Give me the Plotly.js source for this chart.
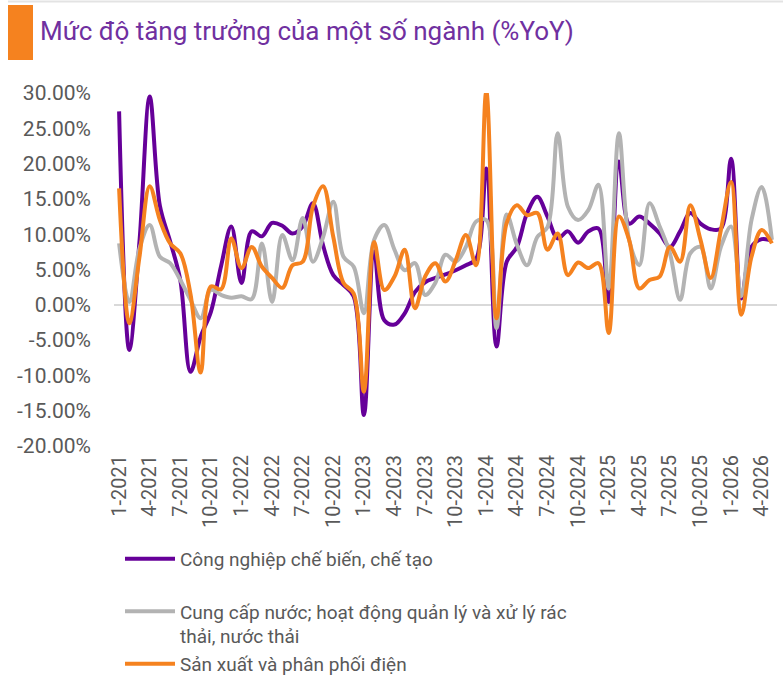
<!DOCTYPE html>
<html>
<head>
<meta charset="utf-8">
<script src="https://cdn.plot.ly/plotly-3.0.1.min.js"></script>
<style>html,body{margin:0;padding:0;background:#fff;}#chart{width:783px;height:698px;}</style>
</head>
<body>
<div id="chart"></div>
<script>
const months = ["1-2021","2-2021","3-2021","4-2021","5-2021","6-2021","7-2021","8-2021","9-2021","10-2021","11-2021","12-2021",
"1-2022","2-2022","3-2022","4-2022","5-2022","6-2022","7-2022","8-2022","9-2022","10-2022","11-2022","12-2022",
"1-2023","2-2023","3-2023","4-2023","5-2023","6-2023","7-2023","8-2023","9-2023","10-2023","11-2023","12-2023",
"1-2024","2-2024","3-2024","4-2024","5-2024","6-2024","7-2024","8-2024","9-2024","10-2024","11-2024","12-2024",
"1-2025","2-2025","3-2025","4-2025","5-2025","6-2025","7-2025","8-2025","9-2025","10-2025","11-2025","12-2025",
"1-2026","2-2026","3-2026","4-2026","5-2026"];

const tickMonths = ["1-2021","4-2021","7-2021","10-2021","1-2022","4-2022","7-2022","10-2022","1-2023","4-2023","7-2023","10-2023",
"1-2024","4-2024","7-2024","10-2024","1-2025","4-2025","7-2025","10-2025","1-2026","4-2026"];

const yTickVals = [-20,-15,-10,-5,0,5,10,15,20,25,30];
const yTickText = ["-20.00%","-15.00%","-10.00%","-5.00%","0.00%","5.00%","10.00%","15.00%","20.00%","25.00%","30.00%"];

const seriesNames = ["Công nghiệp chế biến, chế tạo<br> ",
                     "Cung cấp nước; hoạt động quản lý và xử lý rác<br>thải, nước thải",
                     "Sản xuất và phân phối điện"];

const congNghiep = [27.4,-6.4,9.0,29.5,14.0,9.0,3.5,-9.5,-4.5,-1.0,5.5,11.1,
3.1,10.4,9.7,11.6,11.2,10.1,11.1,14.4,8.4,4.2,2.8,1.2,
-15.6,7.6,-2.2,-2.8,-1.2,1.8,3.2,3.8,4.3,4.9,5.6,6.5,
19.3,-5.9,6.1,8.2,13.0,15.3,12.5,9.4,10.4,8.8,10.4,10.8,
0.4,20.3,11.5,12.5,11.5,10.1,8.2,10.4,13.0,11.5,10.7,10.8,
20.7,0.9,8.2,9.3,9.1];

const cungCapNuoc = [8.7,0.4,8.0,11.3,6.8,5.9,3.5,0.7,-1.9,2.1,1.4,1.0,
1.2,0.8,8.7,0.4,9.9,6.3,12.3,6.1,9.6,14.6,6.8,5.4,
-1.2,9.2,11.3,7.8,4.9,5.9,1.4,3.1,7.1,6.1,8.2,11.8,
12.0,-3.3,12.8,8.5,5.6,9.6,11.0,24.3,13.9,12.0,13.4,17.0,
2.3,24.3,9.2,5.6,14.4,11.1,7.3,0.7,7.3,8.2,2.3,8.2,
11.1,1.2,12.0,16.7,9.2];

const sanXuatDien = [16.5,-2.6,6.8,16.8,12.0,8.7,7.3,1.5,-9.6,2.6,2.2,9.4,
5.2,8.2,5.4,3.8,2.4,5.6,6.1,13.9,16.8,9.6,3.1,1.6,
-12.3,8.9,2.1,4.0,7.8,-0.5,4.0,5.9,3.3,6.3,9.9,5.6,
30.2,-1.9,11.6,14.1,12.7,13.0,7.8,10.1,4.2,6.0,5.2,5.9,
-4.0,12.5,9.2,2.3,3.5,4.0,8.2,6.1,14.1,9.2,3.8,10.6,
17.4,-1.4,6.8,10.6,8.7];

const colors = ["#660099", "#B3B3B3", "#F5821F"];
const allSeries = [congNghiep, cungCapNuoc, sanXuatDien];

const traces = allSeries.map((ys, k) => ({
  type: "scatter",
  mode: "lines",
  x: months,
  y: ys,
  name: seriesNames[k],
  line: {color: colors[k], width: 4, shape: "spline", smoothing: 1},
  hoverinfo: "skip"
}));

const FONT = "Roboto, 'Noto Sans', sans-serif";

const layout = {
  width: 783, height: 698,
  margin: {l: 114, r: 6, t: 93, b: 252, autoexpand: false},
  paper_bgcolor: "#ffffff",
  plot_bgcolor: "#ffffff",
  font: {family: FONT, color: "#595959", size: 19},
  showlegend: true,
  title: {
    text: "Mức độ tăng trưởng của một số ngành (%YoY)",
    font: {family: FONT, size: 26, color: "#7030A0"},
    x: 40/783, xanchor: "left", xref: "container",
    y: 1 - 31/698, yanchor: "middle", yref: "container"
  },
  xaxis: {
    type: "category",
    range: [-0.5, months.length - 0.5],
    tickmode: "array",
    tickvals: tickMonths,
    ticktext: tickMonths,
    tickangle: -90,
    showgrid: false,
    zeroline: false,
    showline: false,
    ticks: "",
    ticklabelstandoff: 4,
    tickfont: {family: FONT, size: 20, color: "#595959"},
    fixedrange: true
  },
  yaxis: {
    range: [-20, 30],
    tickmode: "array",
    tickvals: yTickVals,
    ticktext: yTickText,
    showgrid: false,
    zeroline: true,
    zerolinecolor: "#D9D9D9",
    zerolinewidth: 2,
    showline: false,
    ticks: "",
    ticklabelstandoff: 22,
    tickfont: {family: FONT, size: 21, color: "#595959"},
    fixedrange: true
  },
  legend: {
    orientation: "v",
    xref: "container", yref: "container",
    x: 120/783, xanchor: "left",
    y: 1 - 540/698, yanchor: "top",
    valign: "top",
    itemwidth: 50,
    tracegroupgap: 0,
    bgcolor: "rgba(0,0,0,0)",
    font: {family: FONT, size: 19, color: "#595959"}
  },
  shapes: [
    {type: "rect", xref: "paper", yref: "paper",
     x0: (8-114)/663, x1: (33-114)/663, y0: 1 + (93-5)/353, y1: 1 + (93-60)/353,
     fillcolor: "#F5821F", line: {width: 0}, layer: "above"},
    {type: "line", xref: "paper", yref: "paper",
     x0: (8-114)/663, x1: (783-114)/663, y0: 1 + (93-1.5)/353, y1: 1 + (93-1.5)/353,
     line: {color: "#E3E3E3", width: 2}}
  ]
};

Plotly.newPlot("chart", traces, layout, {displayModeBar: false, staticPlot: true});
</script>
</body>
</html>
